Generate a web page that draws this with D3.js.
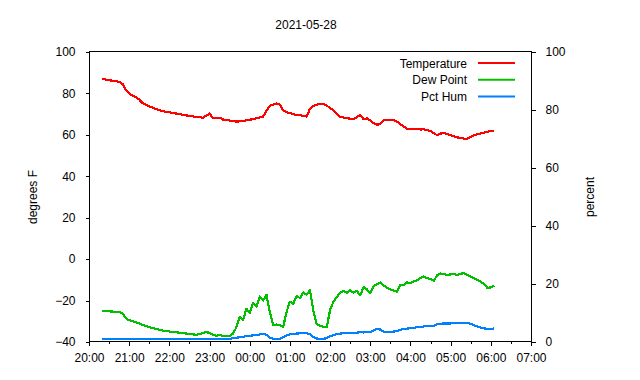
<!DOCTYPE html>
<html><head><meta charset="utf-8">
<script src="https://cdn.jsdelivr.net/npm/d3@7"></script>
<style>body{margin:0;background:#fff}svg{display:block;font-family:"Liberation Sans",Arial,sans-serif}</style>
</head><body><svg id="c" width="640" height="380"></svg>
<script>
const title = "2021-05-28";
const startTime = "2021-05-28 20:20";
const stepMinutes = 5;
const seriesNames = ["Temperature", "Dew Point", "Pct Hum"];
const seriesColors = ["#ff0000", "#00c000", "#0080ff"];
const xTickLabels = ["20:00","21:00","22:00","23:00","00:00","01:00","02:00","03:00","04:00","05:00","06:00","07:00"];
const leftTicks = [-40,-20,0,20,40,60,80,100];
const rightTicks = [0,20,40,60,80,100];

const temperature = [87.0,86.7,86.4,86.1,85.9,85.6,84.6,81.8,80.0,78.9,78.3,77.0,75.3,74.5,73.8,73.1,72.4,72.0,71.5,71.1,
70.9,70.5,70.3,70.0,69.7,69.4,69.2,68.9,68.6,68.5,68.3,69.2,70.3,68.2,68.3,68.3,67.4,67.2,66.9,66.7,
66.4,66.5,66.6,67.0,67.3,67.6,68.0,68.4,68.8,71.5,74.0,74.6,75.2,74.5,71.8,71.0,70.5,70.0,69.6,69.5,
69.2,68.8,72.6,74.0,74.6,74.8,74.9,74.1,73.0,71.7,70.2,68.8,68.4,68.0,67.8,67.7,68.5,69.6,67.5,68.0,
67.0,65.6,64.9,65.2,66.9,67.3,67.3,67.1,66.3,65.2,64.0,63.0,62.7,62.7,62.8,62.6,62.7,62.3,61.9,60.8,
59.8,60.6,61.0,60.4,59.8,59.3,58.8,58.4,58.2,58.1,59.0,59.9,60.3,60.7,61.1,61.5,61.8,62.0];

const dewPoint = [-24.9,-25.1,-25.2,-25.3,-25.5,-25.6,-26.2,-28.5,-29.5,-29.9,-30.4,-31.0,-31.7,-32.2,-32.9,-33.3,-33.7,-34.1,-34.5,-34.7,
-34.9,-35.2,-35.3,-35.5,-35.7,-35.9,-36.1,-36.3,-36.5,-36.2,-35.6,-35.2,-35.6,-36.6,-37.0,-36.6,-37.0,-37.1,-37.2,-36.0,
-33.0,-28.0,-29.5,-24.0,-26.0,-21.0,-23.0,-18.0,-20.0,-17.2,-25.5,-32.0,-31.5,-32.0,-32.6,-25.5,-20.5,-21.5,-17.8,-18.8,
-16.0,-17.2,-15.0,-25.0,-31.2,-32.3,-32.6,-32.9,-24.5,-20.6,-18.3,-16.3,-15.2,-16.4,-15.0,-16.2,-15.3,-17.5,-13.4,-14.6,
-16.5,-13.0,-12.0,-11.3,-12.8,-13.8,-14.6,-15.2,-15.8,-12.4,-12.6,-11.2,-11.6,-10.8,-10.2,-9.0,-8.4,-9.2,-9.5,-10.5,
-7.6,-6.9,-7.3,-7.6,-7.4,-7.2,-7.8,-7.0,-6.8,-7.5,-8.6,-9.2,-10.0,-10.9,-12.0,-14.0,-13.6,-12.8];

const pctHum = [1.0,1.0,1.0,1.0,1.0,1.0,1.0,1.0,1.0,1.0,1.0,1.0,1.0,1.0,1.0,1.0,1.0,1.0,1.0,1.0,
1.0,1.0,1.0,1.0,1.0,1.0,1.0,1.0,1.0,1.0,1.0,1.0,1.0,1.0,1.0,1.0,1.0,1.0,1.0,1.3,
1.5,1.6,1.8,2.0,2.1,2.3,2.4,2.6,2.8,2.5,1.5,1.1,1.0,1.1,1.6,2.3,2.6,2.8,2.9,3.0,
3.0,3.1,2.6,1.7,1.2,1.1,1.1,1.3,2.0,2.4,2.7,2.9,3.0,3.2,3.1,3.2,3.2,3.4,3.3,3.5,
3.5,4.0,4.5,4.3,3.6,3.5,3.5,3.6,3.8,4.2,4.5,4.6,4.8,4.9,5.1,5.1,5.4,5.5,5.6,5.5,
6.2,6.3,6.4,6.4,6.4,6.5,6.5,6.6,6.7,6.6,6.2,5.8,5.3,5.0,4.7,4.5,4.5,4.7];

const parse = d3.timeParse("%Y-%m-%d %H:%M");
const t0 = parse(startTime);
const times = temperature.map((_, i) => d3.timeMinute.offset(t0, i * stepMinutes));

const svg = d3.select("#c");
const L = 89, R = 531, T = 52, B = 342;
const x = d3.scaleTime().domain([parse("2021-05-28 20:00"), parse("2021-05-29 07:00")]).range([L, R]);
const yL = d3.scaleLinear().domain([-40, 100]).range([B, T]);
const yR = d3.scaleLinear().domain([0, 100]).range([B, T]);

svg.append("rect").attr("x", L + 0.5).attr("y", T - 0.5).attr("width", R - L).attr("height", B - T)
  .attr("fill", "none").attr("stroke", "#000").attr("stroke-width", 1).attr("shape-rendering", "crispEdges");

const font = 12;
const gl = svg.append("g").attr("transform", `translate(${L + 0.5},0)`)
  .call(d3.axisLeft(yL).tickValues(leftTicks).tickSize(4).tickPadding(10));
const gr = svg.append("g").attr("transform", `translate(${R + 0.5},0)`)
  .call(d3.axisRight(yR).tickValues(rightTicks).tickSize(4).tickPadding(10));
const hourTicks = d3.timeHour.range(parse("2021-05-28 20:00"), parse("2021-05-29 07:01"));
const gb = svg.append("g").attr("transform", `translate(0,${B - 0.5})`)
  .call(d3.axisBottom(x).tickValues(hourTicks).tickSize(4).tickPadding(8)
    .tickFormat((d, i) => xTickLabels[i]));
const halfTicks = d3.timeMinute.every(30).range(parse("2021-05-28 20:00"), parse("2021-05-29 07:00"))
  .filter(d => d.getMinutes() === 30);
const gm = svg.append("g").attr("transform", `translate(0,${B - 0.5})`)
  .call(d3.axisBottom(x).tickValues(halfTicks).tickSize(2).tickFormat(""));
gm.select(".domain").remove();
gm.selectAll("line").attr("stroke", "#000").attr("shape-rendering", "crispEdges");

[gl, gr, gb].forEach(g => {
  g.select(".domain").remove();
  g.selectAll("text").attr("font-size", font).attr("fill", "#000").attr("font-family", "Liberation Sans, Arial, sans-serif");
  g.selectAll("line").attr("stroke", "#000").attr("shape-rendering", "crispEdges");
});

svg.append("text").attr("x", 306).attr("y", 29).attr("text-anchor", "middle").attr("font-size", font).text(title);
svg.append("text").attr("transform", "translate(37,197) rotate(-90)").attr("text-anchor", "middle").attr("font-size", font).text("degrees F");
svg.append("text").attr("transform", "translate(594,197) rotate(-90)").attr("text-anchor", "middle").attr("font-size", font).text("percent");

const series = [
  {vals: temperature, y: yL},
  {vals: dewPoint, y: yL},
  {vals: pctHum, y: yR}
];
series.forEach((s, k) => {
  const line = d3.line().x((d, i) => x(times[i])).y(d => s.y(d));
  svg.append("path").attr("d", line(s.vals)).attr("fill", "none")
    .attr("stroke", seriesColors[k]).attr("stroke-width", 2.2).attr("stroke-linejoin", "round")
    .attr("shape-rendering", "crispEdges");
});

const lg = svg.append("g");
seriesNames.forEach((n, k) => {
  const yy = 63 + k * 16.8;
  lg.append("text").attr("x", 467).attr("y", yy + 4.5).attr("text-anchor", "end").attr("font-size", font).text(n);
  lg.append("line").attr("x1", 478).attr("x2", 515).attr("y1", yy).attr("y2", yy)
    .attr("stroke", seriesColors[k]).attr("stroke-width", 2);
});
</script></body></html>
